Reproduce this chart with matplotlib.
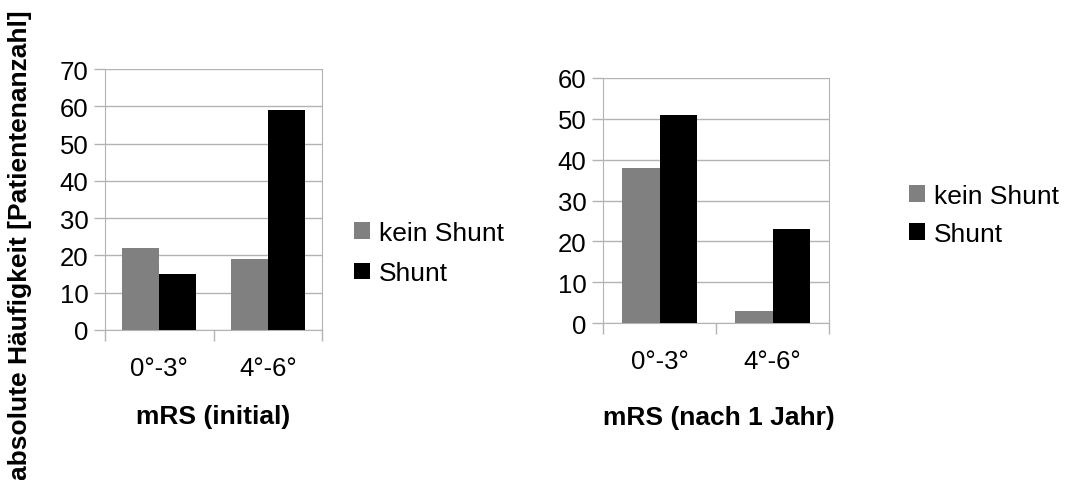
import numpy as np
import matplotlib
matplotlib.use("Agg")
import matplotlib.pyplot as plt

plt.rcParams['font.family'] = ['Liberation Sans', 'DejaVu Sans']

# --- data ---
categories = ["0°-3°", "4°-6°"]
series = ["kein Shunt", "Shunt"]
initial_kein = [22, 19]
initial_shunt = [15, 59]
year_kein = [38, 3]
year_shunt = [51, 23]
colors = ["#808080", "#000000"]

W, H = 1070, 481
fig = plt.figure(figsize=(W / 100, H / 100), dpi=100)


def px_axes(x0, y0, x1, y1):
    # pixel box (top-left origin) -> figure fraction
    return fig.add_axes([x0 / W, 1 - y1 / H, (x1 - x0) / W, (y1 - y0) / H])


def bar_panel(ax, kein, shunt, ymax, width, xlabel, xlab_px, leg_px, spacing):
    x = np.arange(len(categories))
    ax.bar(x - width / 2, kein, width, color=colors[0], label=series[0], zorder=3)
    ax.bar(x + width / 2, shunt, width, color=colors[1], label=series[1], zorder=3)
    ax.set_xlim(-0.5, len(categories) - 0.5)
    ax.set_ylim(0, ymax)
    ax.set_yticks(np.arange(0, ymax + 1, 10))
    ax.yaxis.grid(True, color="#b3b3b3", linewidth=1, zorder=0)
    ax.set_axisbelow(True)

    # category boundary ticks (no labels), labels on minor ticks at centres
    ax.set_xticks(np.arange(-0.5, len(categories), 1.0))
    ax.set_xticklabels([])
    ax.set_xticks(x, minor=True)
    ax.set_xticklabels(categories, minor=True)
    ax.tick_params(axis="x", which="major", length=8, color="#b3b3b3", width=1)
    ax.tick_params(axis="x", which="minor", length=0, pad=19, labelsize=18.5)
    ax.tick_params(axis="y", length=8, color="#b3b3b3", width=1, pad=4, labelsize=18.5)

    for s in ax.spines.values():
        s.set_color("#b3b3b3")
    ax.spines["top"].set_visible(False)

    fig.text(xlab_px[0] / W, 1 - xlab_px[1] / H, xlabel, fontsize=19,
             fontweight="bold", ha="center", va="center")

    leg = ax.legend(loc="center left", bbox_to_anchor=(leg_px[0] / W, 1 - leg_px[1] / H),
                    bbox_transform=fig.transFigure, frameon=False, fontsize=19,
                    handlelength=0.6, handleheight=0.6, handletextpad=0.35,
                    labelspacing=spacing, borderpad=0, borderaxespad=0)
    return leg


ax1 = px_axes(105, 70, 322, 331)
bar_panel(ax1, initial_kein, initial_shunt, 70, 0.34, "mRS (initial)", (213, 417),
          (354, 254), 0.62)

ax2 = px_axes(603, 79, 829, 324)
bar_panel(ax2, year_kein, year_shunt, 60, 0.335, "mRS (nach 1 Jahr)", (719, 418),
          (909, 216), 0.52)

fig.text(20 / W, 1 - 245 / H, "absolute Häufigkeit [Patientenanzahl]", rotation=90,
         fontsize=19, fontweight="bold", ha="center", va="center")

fig.savefig("out.png", dpi=100, facecolor="white")
